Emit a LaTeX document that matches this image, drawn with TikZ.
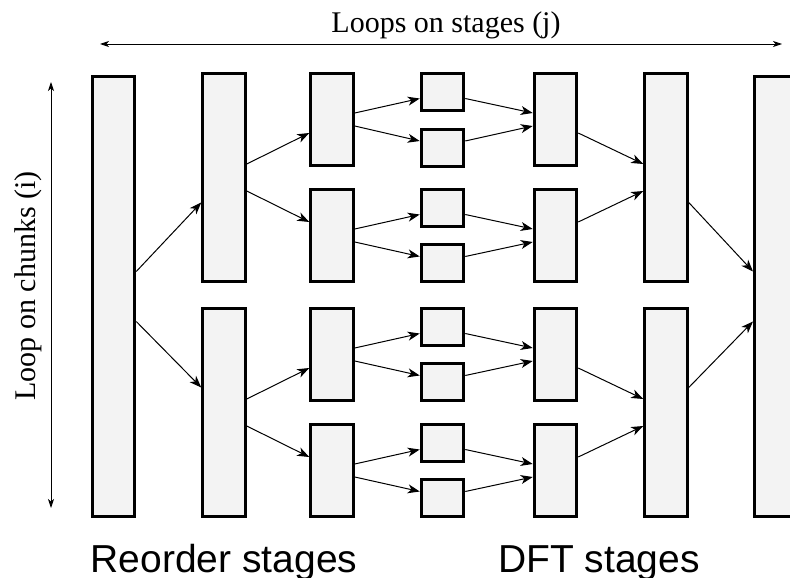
\documentclass[tikz,border=0pt]{standalone}
\usepackage{fontspec}
\setmainfont{Liberation Serif}
\setsansfont{Liberation Sans}
\definecolor{boxgray}{RGB}{243,243,243}
\usetikzlibrary{arrows.meta,calc}
\tikzset{
  stage/.style={draw, line width=3pt, fill=boxgray, minimum width=42.5pt, inner sep=0pt},
  link/.style={line width=1pt, -{Stealth[length=12pt,width=9pt,inset=3.5pt]}},
  span/.style={line width=0.9pt, {Stealth[length=9pt,width=6pt,inset=2.5pt]}-{Stealth[length=9pt,width=6pt,inset=2.5pt]}}
}
\begin{document}
\begin{tikzpicture}[x=1pt, y=-1pt]
\useasboundingbox (0,0) rectangle (790,578);
% Loop ranges
\coordinate (jl) at (100,44);
\coordinate (jr) at (782,44);
\coordinate (it) at (51,82);
\coordinate (ib) at (51,508);
\draw[span] (jl) -- (jr);
\draw[span] (it) -- (ib);
\node[anchor=base, font=\fontsize{30}{36}\selectfont] (jlab) at (446,33) {Loops on stages (j)};
\node[anchor=base, rotate=90, font=\fontsize{30}{36}\selectfont] (ilab) at (35,286) {Loop on chunks (i)};
% Reorder stages
\node[stage, minimum height=440pt] (c1) at (113.5,296.5) {};
\node[stage, minimum height=208pt] (c2a) at (224,177.5) {};
\node[stage, minimum height=208pt] (c2b) at (224,412.5) {};
\node[stage, minimum height=92pt] (c3a) at (332,119.5) {};
\node[stage, minimum height=92pt] (c3b) at (332,235.5) {};
\node[stage, minimum height=92pt] (c3c) at (332,354.5) {};
\node[stage, minimum height=92pt] (c3d) at (332,470.5) {};
\node[stage, minimum height=37pt] (c4a) at (442.5,92) {};
\node[stage, minimum height=37pt] (c4b) at (442.5,147.5) {};
\node[stage, minimum height=37pt] (c4c) at (442.5,208) {};
\node[stage, minimum height=37pt] (c4d) at (442.5,263) {};
\node[stage, minimum height=37pt] (c4e) at (442.5,327) {};
\node[stage, minimum height=37pt] (c4f) at (442.5,382) {};
\node[stage, minimum height=37pt] (c4g) at (442.5,443) {};
\node[stage, minimum height=37pt] (c4h) at (442.5,498) {};
% DFT stages
\node[stage, minimum height=92pt] (c5a) at (555.5,119.5) {};
\node[stage, minimum height=92pt] (c5b) at (555.5,235.5) {};
\node[stage, minimum height=92pt] (c5c) at (555.5,354.5) {};
\node[stage, minimum height=92pt] (c5d) at (555.5,470.5) {};
\node[stage, minimum height=208pt] (c6a) at (666,177.5) {};
\node[stage, minimum height=208pt] (c6b) at (666,412.5) {};
\node[stage, minimum height=440pt] (c7) at (775.75,296.5) {};
% splits
\draw[link] ($(c1.east)+(0,-25)$) -- ($(c2a.west)+(0,25)$);
\draw[link] ($(c1.east)+(0,25)$) -- ($(c2b.west)+(0,-25)$);
\draw[link] ($(c2a.east)+(0,-13.5)$) -- ($(c3a.west)+(0,13.5)$);
\draw[link] ($(c2a.east)+(0,13.5)$) -- ($(c3b.west)+(0,-13.5)$);
\draw[link] ($(c2b.east)+(0,-13.5)$) -- ($(c3c.west)+(0,13.5)$);
\draw[link] ($(c2b.east)+(0,13.5)$) -- ($(c3d.west)+(0,-13.5)$);
\draw[link] ($(c3a.east)+(0,-6.5)$) -- ($(c4a.west)+(0,6.5)$);
\draw[link] ($(c3a.east)+(0,6.5)$) -- ($(c4b.west)+(0,-6.5)$);
\draw[link] ($(c3b.east)+(0,-6.5)$) -- ($(c4c.west)+(0,6.5)$);
\draw[link] ($(c3b.east)+(0,6.5)$) -- ($(c4d.west)+(0,-6.5)$);
\draw[link] ($(c3c.east)+(0,-6.5)$) -- ($(c4e.west)+(0,6.5)$);
\draw[link] ($(c3c.east)+(0,6.5)$) -- ($(c4f.west)+(0,-6.5)$);
\draw[link] ($(c3d.east)+(0,-6.5)$) -- ($(c4g.west)+(0,6.5)$);
\draw[link] ($(c3d.east)+(0,6.5)$) -- ($(c4h.west)+(0,-6.5)$);
% merges
\draw[link] ($(c4a.east)+(0,6.5)$) -- ($(c5a.west)+(0,-6.5)$);
\draw[link] ($(c4b.east)+(0,-6.5)$) -- ($(c5a.west)+(0,6.5)$);
\draw[link] ($(c4c.east)+(0,6.5)$) -- ($(c5b.west)+(0,-6.5)$);
\draw[link] ($(c4d.east)+(0,-6.5)$) -- ($(c5b.west)+(0,6.5)$);
\draw[link] ($(c4e.east)+(0,6.5)$) -- ($(c5c.west)+(0,-6.5)$);
\draw[link] ($(c4f.east)+(0,-6.5)$) -- ($(c5c.west)+(0,6.5)$);
\draw[link] ($(c4g.east)+(0,6.5)$) -- ($(c5d.west)+(0,-6.5)$);
\draw[link] ($(c4h.east)+(0,-6.5)$) -- ($(c5d.west)+(0,6.5)$);
\draw[link] ($(c5a.east)+(0,13.5)$) -- ($(c6a.west)+(0,-13.5)$);
\draw[link] ($(c5b.east)+(0,-13.5)$) -- ($(c6a.west)+(0,13.5)$);
\draw[link] ($(c5c.east)+(0,13.5)$) -- ($(c6b.west)+(0,-13.5)$);
\draw[link] ($(c5d.east)+(0,-13.5)$) -- ($(c6b.west)+(0,13.5)$);
\draw[link] ($(c6a.east)+(0,25)$) -- ($(c7.west)+(0,-25)$);
\draw[link] ($(c6b.east)+(0,-25)$) -- ($(c7.west)+(0,25)$);
% stage groups
\node[anchor=base, font=\sffamily\fontsize{39}{46}\selectfont] (rlab) at (224,572) {Reorder stages};
\node[anchor=base, font=\sffamily\fontsize{39}{46}\selectfont] (dlab) at (599,572) {DFT stages};
\end{tikzpicture}
\end{document}
